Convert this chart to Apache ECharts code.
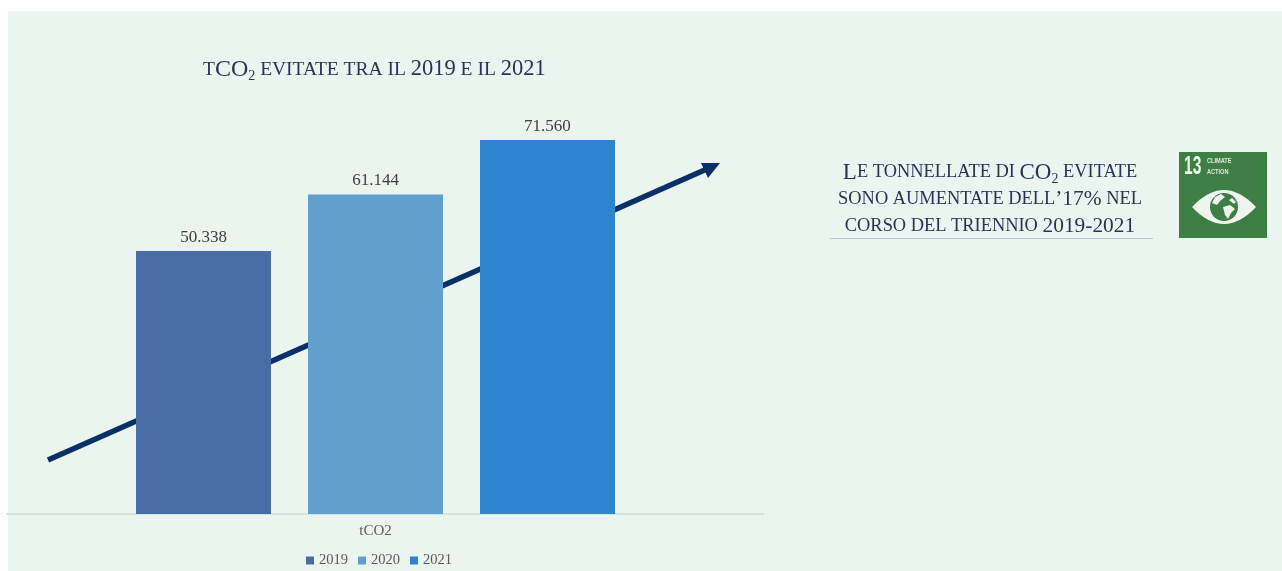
<!DOCTYPE html>
<html>
<head>
<meta charset="utf-8">
<style>html,body{margin:0;padding:0;background:#fff}#chart{width:1282px;height:571px}</style>
<script src="https://cdn.jsdelivr.net/npm/echarts@6/dist/echarts.min.js"></script>
</head>
<body>
<div id="chart"></div>
<script>
const categories = ['tCO2'];
const years = ['2019', '2020', '2021'];
const values = [50338, 61144, 71560];
const barColors = ['#4A6CA5', '#61A0CC', '#2E84CF'];

const SERIF = '"Liberation Serif", serif';
const SANS = '"Liberation Sans", sans-serif';
const INK = '#25355A';
const TILE_INK = '#EEF5EE';

// Small-caps headings are built from rich text runs
const capsRun = (fontSize, extra) => Object.assign(
  { fontFamily: SERIF, fontSize, fontWeight: 'normal', color: INK, lineHeight: 27 }, extra);
const capsStyles = (small, big, digits, sub) => ({
  s: capsRun(small),
  b: capsRun(big),
  d: capsRun(digits),
  u: capsRun(sub, { verticalAlign: 'bottom', padding: [9, 0, 0, 0] })
});

const series = years.map((year, i) => ({
  name: year,
  type: 'bar',
  data: [values[i]],
  barWidth: 135,
  barGap: '27.4%',
  z: 5,
  itemStyle: { color: barColors[i] },
  label: {
    show: true,
    position: 'top',
    distance: 5,
    fontFamily: SERIF,
    fontSize: 17,
    color: '#3F3F3F',
    formatter: p => String(p.value).replace(/(\d)(\d{3})$/, '$1.$2')
  }
}));

// Eye outline of the tile: two quadratic arcs meeting in sharp corners
const eyeOutline = (() => {
  const pts = [];
  const steps = 16;
  for (const ctrlY of [21, 89]) {
    for (let k = 0; k <= steps; k++) {
      const t = ctrlY === 21 ? k / steps : 1 - k / steps;
      const x = 13 + 64 * t;
      const y = (1 - t) * (1 - t) * 55 + 2 * t * (1 - t) * ctrlY + t * t * 55;
      pts.push([x, y]);
    }
  }
  return pts;
})();

const chart = echarts.init(document.getElementById('chart'));
chart.setOption({
  animation: false,
  title: [
    {
      left: 198, top: 51,
      text: '{s|T}{b|CO}{u|2}{s| EVITATE TRA IL }{d|2019}{s| E IL }{d|2021}',
      textStyle: { rich: capsStyles(19.5, 24, 22.5, 14) }
    },
    {
      left: 985, top: 154, textAlign: 'center',
      text: '{b|L}{s|E TONNELLATE DI }{b|CO}{u|2}{s| EVITATE}\n' +
            '{s|SONO AUMENTATE DELL}{d|’17%}{s| NEL}\n' +
            '{s|CORSO DEL TRIENNIO }{d|2019-2021}',
      textStyle: { rich: capsStyles(18.4, 23, 21.4, 14), align: 'center' }
    }
  ],
  legend: {
    left: 301, top: 548,
    icon: 'rect', itemWidth: 8, itemHeight: 8, itemGap: 10,
    data: years,
    textStyle: { fontFamily: SERIF, fontSize: 14.5, color: '#595959' }
  },
  grid: { left: 7, top: 96, width: 737, height: 418 },
  xAxis: {
    type: 'category',
    data: categories,
    axisTick: { show: false },
    axisLine: { lineStyle: { color: '#D6E2DE', width: 2 } },
    axisLabel: { margin: 10, fontFamily: SERIF, fontSize: 15, color: '#595959' }
  },
  yAxis: { type: 'value', min: 0, max: 80000, show: false },
  series,
  graphic: [
    { type: 'rect', z: -10, shape: { x: 8, y: 11, width: 1274, height: 560 }, style: { fill: '#EAF5F0' } },
    // Baseline runs a little past the plot area
    { type: 'line', z: 1, shape: { x1: 744, y1: 514, x2: 764, y2: 514 }, style: { stroke: '#D6E2DE', lineWidth: 2 } },
    // Trend arrow behind the bars
    { type: 'line', z: 1, shape: { x1: 48, y1: 460, x2: 708, y2: 168.5 }, style: { stroke: '#0B3068', lineWidth: 5.5 } },
    { type: 'polygon', z: 1, shape: { points: [[720, 163], [701, 163], [708, 178]] }, style: { fill: '#0B3068' } },
    // Rule under the side note
    { type: 'line', shape: { x1: 830, y1: 238.5, x2: 1153, y2: 238.5 }, style: { stroke: '#AFC8DF', lineWidth: 1 } },
    // Climate action tile
    {
      type: 'group', x: 1179, y: 152,
      children: [
        { type: 'rect', shape: { x: 0, y: 0, width: 88, height: 86 }, style: { fill: '#3F7E44' } },
        { type: 'text', x: 5, y: 2, scaleX: 0.6, style: { text: '13', font: 'bold 26px ' + SANS, fill: TILE_INK } },
        { type: 'text', x: 28, y: 6, scaleX: 0.8, style: { text: 'CLIMATE', font: 'bold 7px ' + SANS, fill: '#DDEBDD' } },
        { type: 'text', x: 28, y: 17, scaleX: 0.8, style: { text: 'ACTION', font: 'bold 7px ' + SANS, fill: '#DDEBDD' } },
        { type: 'polygon', shape: { points: eyeOutline }, style: { fill: TILE_INK } },
        { type: 'circle', shape: { cx: 45, cy: 55, r: 14 }, style: { fill: '#3F7E44' } },
        { type: 'polygon', shape: { points: [[36, 45], [42, 42], [46, 45], [41, 49], [38, 53], [33, 51]] }, style: { fill: TILE_INK } },
        { type: 'polygon', shape: { points: [[44, 55], [51, 53], [56, 57], [52, 61], [49, 67], [46, 63]] }, style: { fill: TILE_INK } },
        { type: 'polygon', shape: { points: [[53, 46], [57, 50], [55, 52], [50, 48]] }, style: { fill: TILE_INK } }
      ]
    }
  ]
});
</script>
</body>
</html>
